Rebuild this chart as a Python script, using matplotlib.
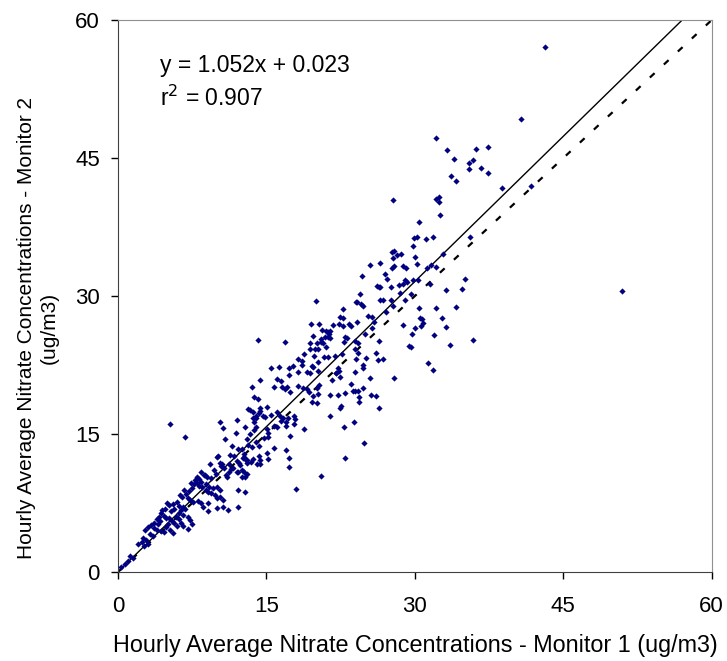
import matplotlib
matplotlib.use("Agg")
import matplotlib.pyplot as plt

plt.rcParams['font.family'] = ['Liberation Sans', 'DejaVu Sans']

# hourly nitrate, monitor 1 (x) vs monitor 2 (y), ug/m3
pts = [
    (43.2, 57.1), (40.7, 49.2), (50.9, 30.5), (32.1, 47.2), (33.2, 45.9), (34.0, 44.9),
    (36.2, 46.0), (37.4, 46.2), (35.9, 44.8), (35.5, 44.5), (35.5, 43.8), (36.7, 43.9),
    (37.4, 43.4), (33.7, 43.0), (38.8, 41.7), (41.7, 42.0), (34.2, 42.5),
    (27.8, 40.4), (32.1, 40.5), (32.4, 40.8), (32.4, 40.2), (32.5, 38.8), (30.4, 38.1),
    (29.9, 36.3), (30.2, 36.4), (31.1, 36.2), (31.8, 36.4), (29.8, 35.4), (27.7, 34.8),
    (27.9, 34.9), (28.2, 34.5), (28.6, 34.6), (27.8, 34.1), (30.0, 34.2), (32.8, 34.6),
    (35.6, 36.4), (25.5, 33.4), (26.5, 33.6), (27.9, 33.3), (27.7, 33.0), (28.8, 33.3),
    (29.1, 33.0), (30.2, 33.5), (31.2, 33.1), (31.6, 33.4), (32.1, 33.2), (24.7, 32.2),
    (27.0, 32.4), (27.2, 31.8), (26.2, 31.1), (26.4, 31.0), (26.5, 31.0), (27.6, 31.0),
    (28.4, 31.2), (28.8, 31.3), (29.0, 31.7), (29.2, 31.5), (29.8, 31.7), (30.3, 31.7),
    (31.5, 31.3), (35.1, 31.8), (34.8, 30.8), (33.1, 30.7), (24.5, 30.2), (28.5, 30.3),
    (29.6, 30.2), (26.5, 29.6), (26.8, 29.6), (27.6, 29.6), (29.0, 29.6),
    (22.7, 28.6), (24.1, 29.4), (24.2, 29.4), (24.6, 29.1), (24.8, 28.9), (27.8, 28.9),
    (30.4, 28.7), (32.1, 28.7), (34.2, 28.8), (22.4, 27.7), (22.7, 27.6), (25.3, 27.8),
    (25.7, 27.7), (27.1, 28.3), (30.5, 27.6), (30.7, 27.5), (30.8, 27.1), (32.7, 27.6),
    (21.7, 26.9), (22.3, 27.0), (22.7, 26.7), (23.3, 27.0), (23.5, 26.7), (24.2, 27.2),
    (25.9, 27.2), (25.7, 26.5), (28.8, 26.8), (30.0, 26.5), (30.6, 26.7), (33.1, 26.6),
    (21.4, 26.2), (21.4, 25.4), (22.9, 25.6), (23.1, 25.4), (22.8, 25.0), (25.0, 25.9),
    (24.3, 24.9), (24.0, 25.1), (26.4, 25.1), (29.7, 25.9), (31.9, 25.8), (29.4, 24.6),
    (29.6, 24.5), (33.6, 24.7), (35.9, 25.2), (21.9, 23.5), (22.6, 23.7), (24.1, 23.2),
    (24.3, 23.8), (25.1, 23.3), (26.1, 23.8), (26.3, 23.0), (26.8, 23.2), (24.8, 22.5),
    (24.8, 22.2), (24.0, 21.7), (22.0, 21.6), (22.3, 21.9), (21.6, 20.9), (22.4, 21.2),
    (25.5, 21.1), (27.9, 21.1), (31.3, 22.7), (31.8, 22.0), (23.5, 20.4), (24.8, 20.0),
    (23.7, 19.7), (24.0, 19.7), (24.3, 19.7), (22.9, 19.5), (21.4, 19.2), (22.2, 19.2),
    (24.4, 19.0), (24.4, 18.5), (25.6, 19.2), (26.1, 19.1), (22.5, 18.0), (22.4, 17.8),
    (26.4, 17.8), (21.4, 17.0), (23.9, 16.3), (22.8, 15.8), (24.9, 14.0), (22.9, 12.4),
    (20.0, 29.5), (19.5, 27.0), (20.3, 27.0), (20.6, 26.3), (21.0, 26.2), (21.3, 25.9),
    (19.7, 25.7), (14.1, 25.2), (16.9, 25.0), (19.4, 24.9), (20.5, 25.3), (20.5, 25.0),
    (20.7, 24.9), (20.9, 25.5), (21.2, 25.5), (21.0, 24.5), (18.8, 23.7), (19.4, 24.2),
    (19.9, 24.2), (20.2, 24.2), (19.8, 23.5), (20.8, 23.4), (21.2, 23.4), (24.0, 24.2),
    (18.2, 23.2), (18.6, 22.9), (18.6, 22.5), (17.7, 22.4), (16.3, 22.3), (15.5, 22.2),
    (19.6, 22.4), (19.7, 22.3), (20.2, 22.8), (22.2, 22.2), (21.2, 26.1), (20.1, 24.9),
    (20.2, 21.8), (22.0, 21.6), (19.1, 21.7), (19.4, 21.6), (17.3, 22.2), (17.3, 21.4),
    (18.2, 21.7), (16.1, 21.0), (16.5, 20.8), (14.4, 20.9), (15.8, 20.1), (16.6, 20.1),
    (17.1, 20.1), (16.9, 19.9), (17.4, 19.6), (13.5, 20.1), (18.2, 20.2), (18.7, 20.0),
    (19.1, 19.9), (19.3, 19.6), (20.1, 20.0), (20.3, 20.3), (20.2, 19.4), (19.7, 19.1),
    (19.6, 18.5), (20.1, 18.4), (13.7, 19.0), (14.1, 18.8), (13.1, 17.7), (13.3, 17.6),
    (13.6, 17.4), (14.3, 17.8), (14.4, 17.5), (14.2, 17.3), (15.1, 17.9), (13.9, 17.0),
    (13.6, 16.7), (13.9, 16.7), (13.7, 16.3), (14.7, 17.0), (14.9, 16.8), (15.5, 17.1),
    (16.1, 17.4), (16.4, 17.0), (16.7, 16.7), (16.5, 16.4), (17.2, 16.7), (17.0, 16.3),
    (17.0, 15.9), (17.8, 16.1), (17.4, 14.8), (18.8, 15.5), (17.9, 16.6), (17.8, 17.0),
    (16.1, 15.8), (15.8, 15.9), (15.1, 15.5), (15.2, 15.1), (15.2, 14.7), (14.8, 14.6),
    (13.9, 15.8), (13.7, 15.4), (13.0, 14.5), (13.3, 15.0), (12.8, 15.8), (12.0, 16.5),
    (11.9, 15.1), (10.3, 16.3), (10.6, 15.7), (10.8, 14.5), (11.5, 13.7), (12.5, 13.4),
    (12.7, 12.8), (13.1, 13.8), (13.5, 13.6), (14.2, 13.7), (13.9, 14.1), (15.8, 13.5),
    (17.0, 13.3), (17.3, 12.4), (15.1, 12.9), (15.2, 12.3), (14.2, 12.6), (14.4, 12.2),
    (13.6, 12.3), (13.4, 12.0), (12.9, 12.2), (13.0, 11.8), (12.2, 11.9), (12.3, 11.6),
    (11.3, 12.7), (11.2, 11.7), (12.6, 12.4), (10.0, 12.5), (10.3, 11.9), (10.5, 11.7),
    (10.4, 11.5), (10.7, 11.3), (11.4, 11.2), (11.2, 10.9), (9.7, 11.1), (9.9, 10.7),
    (9.3, 11.7), (8.8, 10.5), (10.9, 10.6), (11.0, 10.3), (12.0, 10.9), (12.7, 10.9),
    (12.8, 10.3), (14.0, 11.7), (14.3, 11.7), (17.3, 11.4), (20.5, 10.4), (8.0, 10.3),
    (8.2, 10.1), (9.4, 10.2),
    (8.4, 10.9), (8.7, 10.6), (9.0, 10.3), (7.8, 10.0), (8.0, 9.7), (8.4, 9.8),
    (7.4, 9.7), (7.7, 9.6), (8.2, 9.4), (8.5, 9.2), (8.9, 9.6), (9.2, 9.2), (8.9, 8.9),
    (9.1, 8.7), (9.4, 8.6), (9.6, 9.1), (9.8, 8.4), (10.0, 8.0), (10.3, 8.2), (10.6, 7.8),
    (10.6, 7.1), (11.1, 6.7), (12.1, 7.1), (10.0, 9.2), (10.3, 8.9), (7.5, 9.1), (7.2, 8.8),
    (6.7, 8.9), (6.9, 8.5), (6.3, 8.4), (6.5, 8.2), (7.1, 8.1), (7.3, 7.8), (7.6, 7.6),
    (8.1, 7.7), (8.4, 7.5), (8.6, 7.1), (9.1, 6.6), (5.0, 7.5), (5.2, 7.3), (5.6, 7.4),
    (6.0, 7.6), (6.2, 7.2), (6.6, 7.1), (6.8, 6.9), (6.4, 6.7), (6.2, 6.4), (5.7, 6.9),
    (5.4, 6.6), (4.7, 6.9), (4.4, 6.7), (4.3, 6.4), (4.1, 6.0), (3.9, 5.8), (4.6, 6.1),
    (4.9, 5.9), (5.2, 5.9), (5.5, 5.6), (5.9, 6.0), (6.2, 5.8), (6.6, 6.2), (7.1, 6.0),
    (7.3, 5.7), (7.5, 5.2), (7.1, 4.7), (6.4, 5.3), (6.6, 5.0), (5.7, 5.3), (6.0, 5.0),
    (5.1, 5.2), (4.9, 4.9), (4.2, 5.5), (4.0, 5.2), (3.6, 5.3), (3.3, 5.1), (3.0, 4.9),
    (2.7, 4.6), (3.6, 4.8), (3.9, 4.6), (4.3, 4.5), (4.6, 4.3), (5.3, 4.6), (5.6, 4.2),
    (3.2, 4.1), (3.5, 3.9), (2.5, 3.7), (2.8, 3.5), (2.4, 3.3), (3.0, 3.1), (2.0, 3.1),
    (2.6, 2.8), (1.2, 1.7), (1.5, 1.5), (1.0, 1.2), (0.7, 0.9), (0.3, 0.6), (9.1, 7.5),
    (10.0, 7.0), (12.1, 8.9), (12.8, 8.7), (12.5, 10.3), (13.0, 10.7), (11.7, 12.6),
    (12.7, 12.5), (12.0, 12.1), (13.0, 12.2), (11.6, 11.3), (12.1, 10.9), (12.5, 11.1),
    (10.1, 12.6), (12.1, 13.4),
    (5.3, 16.1), (6.8, 14.7), (18.0, 9.0),
]
monitor1 = [p[0] for p in pts]
monitor2 = [p[1] for p in pts]

slope = 1.052
intercept = 0.023
r2 = 0.907
ticks = [0, 15, 30, 45, 60]

fig = plt.figure(figsize=(7.27, 6.61), dpi=100)
ax = fig.add_axes([0.1623, 0.1346, 0.8167, 0.8351])

ax.scatter(monitor1, monitor2, s=10, marker='D', color='#000080', linewidths=0, zorder=3)

# 1:1 line and regression line
ax.plot([0, 60], [0, 60], color='black', linestyle=(0, (2.9, 5.7)), linewidth=1.6, zorder=2)
x_end = (60 - intercept) / slope
ax.plot([0, x_end], [intercept, slope * x_end + intercept], color='black', linewidth=1.0, zorder=2)

ax.set_xlim(0, 60)
ax.set_ylim(0, 60)
ax.set_xticks(ticks)
ax.set_yticks(ticks)
ax.tick_params(direction='out', length=5, width=1, labelsize=16)
ax.tick_params(axis='x', pad=12.5)
ax.tick_params(axis='y', pad=8)

for s in ['left', 'bottom']:
    ax.spines[s].set_color('#404040')
for s in ['top', 'right']:
    ax.spines[s].set_color('#909090')

ax.text(4.2, 55.1, 'y = 1.052x + 0.023', fontsize=16.5, va='center')
ax.text(4.2, 51.5, 'r$^2$ = %.3f' % r2, fontsize=16.5, va='center')

fig.text(415 / 727, 9 / 661, 'Hourly Average Nitrate Concentrations - Monitor 1 (ug/m3)',
         ha='center', va='baseline', fontsize=16.8)
fig.text(37.5 / 727, 0.504, 'Hourly Average Nitrate Concentrations - Monitor 2\n(ug/m3)',
         rotation=90, ha='center', va='center', fontsize=15, multialignment='center',
         linespacing=1.25)

fig.savefig('out.png', dpi=100)
